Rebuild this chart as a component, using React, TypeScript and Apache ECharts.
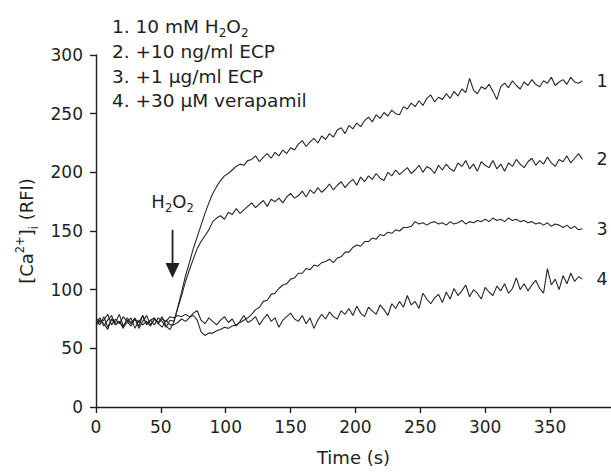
import React, { useEffect, useRef } from "react";
import * as echarts from "echarts";

// sampling interval of the traces (s)
const T_STEP = 3;

const X_TICKS = [0, 50, 100, 150, 200, 250, 300, 350];
const X_MAX = 397;
const Y_MIN = 0;
const Y_MAX = 300;
const Y_INTERVAL = 50;

const TRACE_LABELS = ["1", "2", "3", "4"];

// 1. 10 mM H2O2  (t = 0, 3, 6, ... 375 s)
const TRACE_1 = [
  74, 70, 77, 68, 75, 72, 79, 69, 74, 71, 76, 67, 73, 78, 70, 75, 72, 77, 69, 66,
  72, 85, 98, 112, 123, 135, 145, 155, 165, 174,
  182, 188, 193, 197, 199, 202, 205, 207, 206, 210,
  211, 214, 209, 213, 216, 212, 217, 214, 219, 216,
  221, 219, 224, 227, 222, 226, 229, 225, 231, 228,
  233, 230, 236, 238, 233, 240, 237, 242, 239, 244,
  247, 243, 249, 246, 251, 248, 253, 250, 249, 256,
  254, 259, 256, 261, 257, 263, 266, 260, 264, 262,
  267, 263, 269, 265, 271, 268, 280, 270, 267, 273,
  271, 275, 269, 262, 273, 276, 272, 278, 274, 271,
  277, 274, 279, 275, 273, 278, 276, 281, 274, 277,
  279, 275, 281, 277, 276, 278,
];

// 2. +10 ng/ml ECP
const TRACE_2 = [
  71, 76, 69, 74, 78, 70, 73, 67, 76, 72, 75, 69, 78, 71, 74, 70, 76, 73, 68, 74,
  73, 84, 95, 107, 117, 126, 135, 141, 146, 151,
  158, 161, 163, 160, 166, 164, 169, 165, 168, 171,
  174, 170, 173, 176, 171, 177, 175, 178, 174, 179,
  182, 178, 180, 184, 179, 185, 182, 187, 183, 186,
  190, 185, 189, 192, 187, 191, 194, 189, 196, 192,
  197, 194, 199, 195, 193, 200, 197, 202, 198, 201,
  204, 199, 202, 206, 200, 205, 203, 199, 206, 202,
  207, 203, 201, 208, 205, 210, 203, 207, 201, 209,
  206, 204, 210, 203, 207, 201, 208, 205, 211, 207,
  204, 209, 212, 206, 210, 207, 213, 208, 205, 211,
  209, 214, 208, 212, 216, 211,
];

// 3. +1 ug/ml ECP
const TRACE_3 = [
  76, 72, 74, 79, 70, 75, 71, 77, 73, 69, 75, 72, 78, 70, 74, 76, 71, 75, 73, 77,
  76, 78, 77, 79, 77, 78, 74, 64, 61, 63,
  63, 65, 66, 68, 67, 69, 70, 72, 74, 76,
  79, 83, 85, 90, 91, 96, 97, 101, 104, 105,
  109, 110, 114, 114, 118, 117, 121, 120, 123, 124,
  126, 123, 127, 128, 132, 132, 136, 138, 137, 141,
  141, 144, 143, 147, 146, 149, 148, 151, 150, 153,
  153, 154, 158, 156, 157, 155, 157, 158, 156, 157,
  155, 158, 156, 157, 159, 156, 158, 157, 159, 158,
  160, 158, 161, 159, 160, 158, 161, 159, 160, 158,
  159, 157, 158, 156, 157, 155, 157, 154, 156, 155,
  153, 155, 152, 154, 151, 152,
];

// 4. +30 uM verapamil
const TRACE_4 = [
  69, 74, 71, 66, 75, 70, 73, 68, 72, 76, 67, 74, 70, 73, 69, 75, 71, 68, 74, 70,
  70, 72, 75, 73, 76, 80, 82, 74, 71, 76,
  73, 70, 74, 77, 72, 75, 69, 73, 78, 72,
  74, 77, 70, 75, 79, 73, 76, 68, 74, 77,
  80, 75, 73, 78, 71, 76, 67, 74, 79, 75,
  81, 77, 75, 82, 79, 84, 78, 86, 80, 77,
  85, 82, 79, 87, 83, 78, 88, 84, 90, 85,
  95, 87, 90, 84, 97, 92, 88, 93, 96, 89,
  98, 92, 101, 95, 99, 104, 94, 100, 97, 92,
  102, 98, 95, 103, 99, 105, 97, 101, 110, 100,
  105, 99, 104, 108, 101, 97, 118, 104, 109, 100,
  112, 105, 114, 107, 111, 109,
];

const LEGEND_LINES = [
  "{t|1. 10 mM H}{s|2}{t|O}{s|2}",
  "{t|2. +10 ng/ml ECP}",
  "{t|3. +1 μg/ml ECP}",
  "{t|4. +30 μM verapamil}",
];

// H2O2 addition marker (data coordinates)
const ARROW_T = 59;
const ARROW_TOP = 151;
const ARROW_TIP = 110;
const ARROW_LABEL_V = 175;

export default function App() {
  const ref = useRef<HTMLDivElement>(null);

  useEffect(() => {
    if (!ref.current) return;
    const chart = echarts.init(ref.current, null, { renderer: "svg" });
    const FONT = "'DejaVu Sans', sans-serif";
    const INK = "#231f20";
    const traces = [TRACE_1, TRACE_2, TRACE_3, TRACE_4];

    const series = traces.map((tr, k) => ({
      type: "line",
      data: tr.map((v, i) => [i * T_STEP, v]),
      showSymbol: false,
      symbol: "none",
      silent: true,
      z: 10 - k,
      lineStyle: { color: "#262626", width: 1.1 },
      endLabel: {
        show: true,
        formatter: TRACE_LABELS[k],
        distance: 14,
        color: INK,
        fontSize: 17.5,
        fontFamily: FONT,
      },
    }));

    chart.setOption({
      animation: false,
      backgroundColor: "#ffffff",
      title: {
        text: LEGEND_LINES.join("\n"),
        left: 112,
        top: 14.5,
        padding: 0,
        textStyle: {
          fontWeight: "normal",
          rich: {
            t: { fontSize: 18.5, lineHeight: 24.6, fontFamily: FONT, color: INK, fontWeight: "normal" },
            s: { fontSize: 12, lineHeight: 15, verticalAlign: "bottom", fontFamily: FONT, color: INK, fontWeight: "normal" },
          },
        },
      },
      grid: { left: 96, right: 0, top: 55, bottom: 65, containLabel: false },
      xAxis: {
        type: "value",
        min: 0,
        max: X_MAX,
        interval: 50,
        name: "Time (s)",
        nameLocation: "middle",
        nameGap: 41,
        nameTextStyle: { fontSize: 18, fontFamily: FONT, color: INK },
        splitLine: { show: false },
        axisLine: { show: true, onZero: false, lineStyle: { color: INK, width: 1.4 } },
        axisTick: { show: true, inside: false, length: 6, customValues: X_TICKS, lineStyle: { color: INK, width: 1.4 } },
        axisLabel: { show: true, customValues: X_TICKS, margin: 11, fontSize: 17, fontFamily: FONT, color: INK },
      },
      yAxis: {
        type: "value",
        min: Y_MIN,
        max: Y_MAX,
        interval: Y_INTERVAL,
        name: "{a|[Ca}{p|2+}{a|]}{b|i}{a| (RFI)}",
        nameLocation: "middle",
        nameRotate: 90,
        nameGap: 55,
        nameTextStyle: {
          rich: {
            a: { fontSize: 18, lineHeight: 26, fontFamily: FONT, color: INK },
            p: { fontSize: 11.5, lineHeight: 12, verticalAlign: "top", fontFamily: FONT, color: INK },
            b: { fontSize: 11.5, lineHeight: 12, verticalAlign: "bottom", fontFamily: FONT, color: INK },
          },
        },
        splitLine: { show: false },
        axisLine: { show: true, lineStyle: { color: INK, width: 1.4 } },
        axisTick: { show: true, inside: false, length: 6, lineStyle: { color: INK, width: 1.4 } },
        axisLabel: { margin: 13, fontSize: 17, fontFamily: FONT, color: INK },
      },
      series,
    });

    const top = chart.convertToPixel({ gridIndex: 0 }, [ARROW_T, ARROW_TOP]) as number[];
    const tip = chart.convertToPixel({ gridIndex: 0 }, [ARROW_T, ARROW_TIP]) as number[];
    const lab = chart.convertToPixel({ gridIndex: 0 }, [ARROW_T, ARROW_LABEL_V]) as number[];
    const ax = top[0];

    chart.setOption({
      graphic: [
        {
          type: "line",
          silent: true,
          shape: { x1: ax, y1: top[1], x2: ax, y2: tip[1] - 12 },
          style: { stroke: INK, lineWidth: 1.8 },
          z: 100,
        },
        {
          type: "polygon",
          silent: true,
          shape: { points: [[ax, tip[1]], [ax - 7, tip[1] - 15], [ax + 7, tip[1] - 15]] },
          style: { fill: INK },
          z: 100,
        },
        {
          type: "text",
          silent: true,
          x: ax,
          y: lab[1],
          z: 100,
          style: {
            text: "{b|H}{s|2}{b|O}{s|2}",
            align: "center",
            verticalAlign: "middle",
            rich: {
              b: { fontSize: 18, lineHeight: 24, fontFamily: FONT, fill: INK, color: INK },
              s: { fontSize: 11.5, lineHeight: 14, verticalAlign: "bottom", fontFamily: FONT, fill: INK, color: INK },
            },
          },
        },
      ],
    });

    return () => chart.dispose();
  }, []);

  return (
    <div
      ref={ref}
      style={{ position: "fixed", left: 0, top: 0, width: 611, height: 472 }}
    />
  );
}
